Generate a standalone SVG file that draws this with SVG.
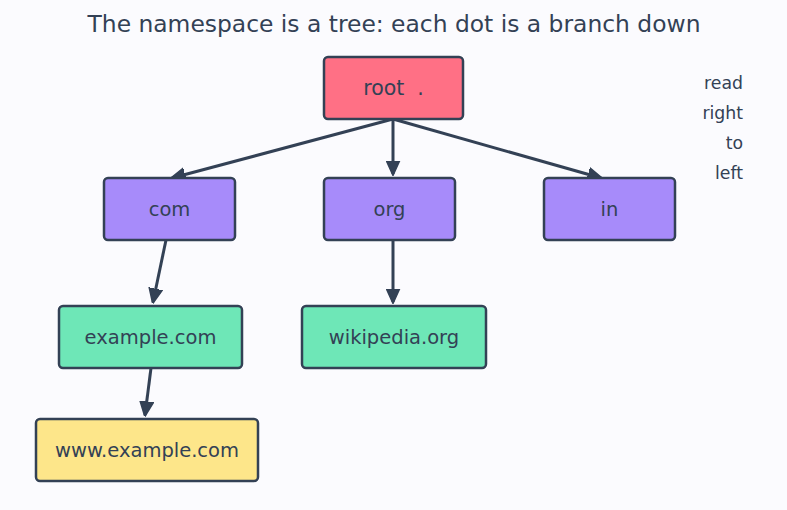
<svg xmlns="http://www.w3.org/2000/svg" width="787" height="510" viewBox="0 0 787 510">
<style>
.n rect{stroke:#334155;stroke-width:2.5}
text{font-family:"DejaVu Sans",sans-serif;fill:#334155}
.l{font-size:19.5px;text-anchor:middle;dominant-baseline:central}
.s{font-size:17.3px;text-anchor:end}
.e{stroke:#334155;stroke-width:3;fill:none;marker-end:url(#a)}
</style>
<defs>
<marker id="a" viewBox="0 0 10 10" refX="9" refY="5" markerWidth="5" markerHeight="5" orient="auto" markerUnits="strokeWidth">
<path d="M0,0.5 L10,5 L0,9.5 z" fill="#334155" stroke="#334155" stroke-width="1" stroke-linejoin="round"/>
</marker>
</defs>
<rect width="787" height="510" fill="#fbfbfe"/>
<text x="394" y="32" font-size="23.4" text-anchor="middle">The namespace is a tree: each dot is a branch down</text>
<g id="connectors">
<line class="e" x1="393" y1="119" x2="172" y2="178"/>
<line class="e" x1="393" y1="119" x2="393" y2="174"/>
<line class="e" x1="393" y1="119" x2="601" y2="178"/>
<line class="e" x1="166" y1="240" x2="153" y2="302"/>
<line class="e" x1="393" y1="240" x2="393" y2="302"/>
<line class="e" x1="151" y1="368" x2="145" y2="415"/>
</g>
<g id="root" class="n"><rect x="324" y="57" width="139" height="62" rx="4" fill="#ff7085"/><text class="l" x="393.5" y="88" style="font-size:20.5px;white-space:pre" xml:space="preserve">root  .</text></g>
<g id="com" class="n"><rect x="104" y="178" width="131" height="62" rx="4" fill="#a78bfa"/><text class="l" x="169.5" y="209">com</text></g>
<g id="org" class="n"><rect x="324" y="178" width="131" height="62" rx="4" fill="#a78bfa"/><text class="l" x="389.5" y="209">org</text></g>
<g id="in" class="n"><rect x="544" y="178" width="131" height="62" rx="4" fill="#a78bfa"/><text class="l" x="609.5" y="209">in</text></g>
<g id="example" class="n"><rect x="59" y="306" width="183" height="62" rx="4" fill="#6ee7b7"/><text class="l" x="150.5" y="337">example.com</text></g>
<g id="wikipedia" class="n"><rect x="302" y="306" width="184" height="62" rx="4" fill="#6ee7b7"/><text class="l" x="394" y="337">wikipedia.org</text></g>
<g id="www" class="n"><rect x="36" y="419" width="222" height="62" rx="4" fill="#fde68a"/><text class="l" x="147" y="450">www.example.com</text></g>
<g id="note">
<text class="s" x="743" y="89">read</text>
<text class="s" x="743" y="119">right</text>
<text class="s" x="743" y="149">to</text>
<text class="s" x="743" y="179">left</text>
</g>
</svg>
